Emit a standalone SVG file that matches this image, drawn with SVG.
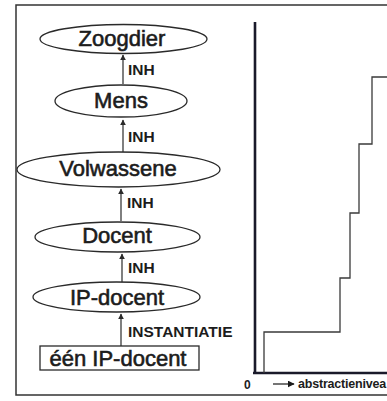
<svg xmlns="http://www.w3.org/2000/svg" width="387" height="401" viewBox="0 0 387 401">
<style>
.node{fill:#fff;stroke:#2a2a2a;stroke-width:1.3}
.lbl{font-family:"Liberation Sans",Arial,sans-serif;font-size:22px;fill:#1c1c1c;stroke:#1c1c1c;stroke-width:0.6;text-anchor:middle}
.rel{font-family:"Liberation Sans",Arial,sans-serif;font-size:15.5px;font-weight:bold;fill:#1c1c1c}
.arr{stroke:#2a2a2a;stroke-width:1.2;fill:none;marker-end:url(#ah)}
.ax{stroke:#1a1a2a;stroke-width:2.6;fill:none}
.st{stroke:#3a3a3a;stroke-width:1.3;fill:none}
</style>
<defs>
<marker id="ah" viewBox="0 0 10 10" refX="9" refY="5" markerWidth="6" markerHeight="6" markerUnits="userSpaceOnUse" orient="auto">
<path d="M0,0 L10,5 L0,10 z" fill="#2a2a2a"/>
</marker>
<marker id="ah2" viewBox="0 0 10 10" refX="9" refY="5" markerWidth="7" markerHeight="7" markerUnits="userSpaceOnUse" orient="auto">
<path d="M0,0 L10,5 L0,10 z" fill="#1a1a1a"/>
</marker>
</defs>
<rect width="387" height="401" fill="#fff"/>
<path d="M390,5 H16 V395 H390" fill="none" stroke="#333" stroke-width="1.5"/>

<g id="zoogdier"><ellipse class="node" cx="123.5" cy="39" rx="83.5" ry="14.5"/><text class="lbl" x="122" y="46">Zoogdier</text></g>
<g id="mens"><ellipse class="node" cx="121" cy="101" rx="66" ry="16"/><text class="lbl" x="121" y="108">Mens</text></g>
<g id="volwassene"><ellipse class="node" cx="118.5" cy="169.5" rx="101.5" ry="17.5"/><text class="lbl" x="118" y="176">Volwassene</text></g>
<g id="docent"><ellipse class="node" cx="117.5" cy="237" rx="82.5" ry="15"/><text class="lbl" x="117" y="243">Docent</text></g>
<g id="ip-docent"><ellipse class="node" cx="116.5" cy="297" rx="83.5" ry="15"/><text class="lbl" x="117" y="305">IP-docent</text></g>
<g id="een-ip-docent"><rect class="node" x="40" y="346" width="159" height="24"/><text class="lbl" x="118" y="366">één IP-docent</text></g>

<g id="connectors">
<line class="arr" x1="123" y1="84" x2="123" y2="55"/>
<line class="arr" x1="123" y1="152" x2="123" y2="120"/>
<line class="arr" x1="121" y1="221" x2="121" y2="189"/>
<line class="arr" x1="122" y1="282" x2="122" y2="254"/>
<line class="arr" x1="121" y1="346" x2="121" y2="314"/>
<text class="rel" x="128" y="75">INH</text>
<text class="rel" x="128" y="142">INH</text>
<text class="rel" x="127" y="208">INH</text>
<text class="rel" x="128" y="273">INH</text>
<text class="rel" x="128" y="337">INSTANTIATIE</text>
</g>

<g id="chart">
<path class="ax" d="M255,22 V374 M253,373 H388"/>
<path class="st" d="M264,373 V332 H340 V278 H350 V213 H359 V144 H372 V77 H388"/>
<text x="244" y="389" font-family="Liberation Sans,Arial,sans-serif" font-size="12" font-weight="bold" fill="#1c1c1c">0</text>
<line x1="273" y1="384" x2="294" y2="384" stroke="#1a1a1a" stroke-width="1.2" marker-end="url(#ah2)"/>
<text x="298" y="388" font-family="Liberation Sans,Arial,sans-serif" font-size="12.5" font-weight="bold" fill="#1c1c1c" letter-spacing="-0.2">abstractienivea</text>
</g>
</svg>
